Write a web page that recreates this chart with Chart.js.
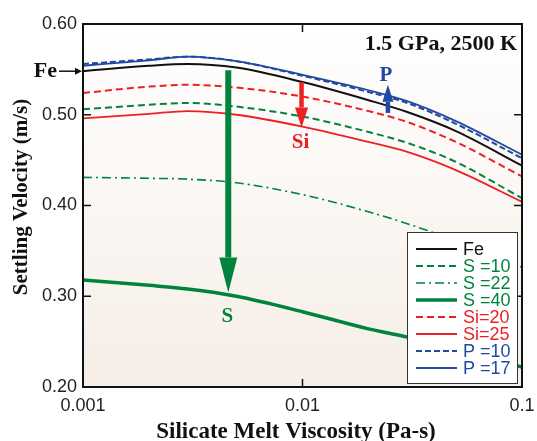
<!DOCTYPE html>
<html>
<head>
<meta charset="utf-8">
<script src="https://cdn.jsdelivr.net/npm/chart.js@4"></script>
<style>
  body { margin: 0; background: #fff; }
  #wrap { width: 537px; height: 441px; position: relative; }
</style>
</head>
<body>
<div id="wrap"><canvas id="chart"></canvas></div>
<script>
// viscosity (Pa-s)
const viscosity = [0.001, 0.002, 0.003, 0.005, 0.01, 0.02, 0.03, 0.05, 0.1];

// settling velocity (m/s)
const fe   = [0.548, 0.554, 0.556, 0.552, 0.536, 0.516, 0.503, 0.482, 0.444];
const s10  = [0.506, 0.511, 0.513, 0.509, 0.498, 0.481, 0.469, 0.448, 0.408];
const s22  = [0.431, 0.430, 0.429, 0.425, 0.412, 0.393, 0.380, 0.361, 0.332];
const s40  = [0.318, 0.312, 0.308, 0.300, 0.283, 0.264, 0.255, 0.241, 0.222];
const si20 = [0.524, 0.531, 0.533, 0.530, 0.520, 0.504, 0.492, 0.470, 0.432];
const si25 = [0.496, 0.501, 0.504, 0.500, 0.487, 0.470, 0.459, 0.439, 0.404];
const p10  = [0.556, 0.561, 0.564, 0.559, 0.543, 0.525, 0.513, 0.490, 0.452];
const p17  = [0.554, 0.560, 0.564, 0.559, 0.544, 0.527, 0.515, 0.493, 0.456];

const xTicks = [0.001, 0.01, 0.1];
const yTicks = [0.2, 0.3, 0.4, 0.5, 0.6];

// arrows: [x, yFrom, yTo], labels: [x, y]
const sArrow  = [0.00459, 0.549, 0.304];
const siArrow = [0.0099, 0.536, 0.486];
const pArrow  = [0.0245, 0.502, 0.533];
const sLabel  = [0.00455, 0.278];
const siLabel = [0.0098, 0.469];
const pLabel  = [0.0240, 0.543];
const feLevel = 0.548;

const GREEN = '#00843d';
const RED = '#ed2024';
const BLUE = '#1f4aa0';

const sans = "'Liberation Sans', Arial, sans-serif";
const serif = "'Liberation Serif', 'Times New Roman', serif";

function pts(ys) {
    return viscosity.map((x, i) => ({ x: x, y: ys[i] }));
}

function series(label, ys, color, width, dash) {
    return {
        label: label,
        data: pts(ys),
        borderColor: color,
        backgroundColor: color,
        borderWidth: width,
        borderDash: dash,
        pointRadius: 0,
        cubicInterpolationMode: 'monotone',
        fill: false
    };
}

const datasets = [
    series('Fe', fe, '#111111', 2, []),
    series('S =10', s10, GREEN, 2, [7, 4]),
    series('S =22', s22, GREEN, 1.6, [9, 4, 2, 4]),
    series('S =40', s40, GREEN, 3.5, []),
    series('Si=20', si20, RED, 2, [7, 4]),
    series('Si=25', si25, RED, 1.8, []),
    series('P =10', p10, BLUE, 2, [6, 3]),
    series('P =17', p17, BLUE, 1.8, [])
];

function arrow(ctx, x, y0, y1, shaft, headW, headL, color) {
    const dir = y1 > y0 ? 1 : -1;
    ctx.save();
    ctx.fillStyle = color;
    ctx.strokeStyle = color;
    ctx.lineWidth = shaft;
    ctx.beginPath();
    ctx.moveTo(x, y0);
    ctx.lineTo(x, y1 - dir * headL);
    ctx.stroke();
    ctx.beginPath();
    ctx.moveTo(x - headW / 2, y1 - dir * headL);
    ctx.lineTo(x + headW / 2, y1 - dir * headL);
    ctx.lineTo(x, y1);
    ctx.closePath();
    ctx.fill();
    ctx.restore();
}

const decor = {
    id: 'decor',
    beforeDraw(chart) {
        const { ctx, chartArea: a } = chart;
        const g = ctx.createLinearGradient(0, a.top, 0, a.bottom);
        g.addColorStop(0, '#ffffff');
        g.addColorStop(1, '#f6eee7');
        ctx.save();
        ctx.fillStyle = g;
        ctx.fillRect(a.left, a.top, a.right - a.left, a.bottom - a.top);
        ctx.restore();
    },
    afterDatasetsDraw(chart) {
        const { ctx, chartArea: a, scales } = chart;
        const xs = scales.x, ys = scales.y;

        // frame and inner ticks
        ctx.save();
        ctx.strokeStyle = '#111';
        ctx.lineWidth = 2;
        ctx.strokeRect(a.left, a.top, a.right - a.left, a.bottom - a.top);
        ctx.lineWidth = 1.5;
        ctx.beginPath();
        yTicks.slice(1, -1).forEach(v => {
            const y = ys.getPixelForValue(v);
            ctx.moveTo(a.left, y); ctx.lineTo(a.left + 8, y);
            ctx.moveTo(a.right, y); ctx.lineTo(a.right - 8, y);
        });
        xTicks.slice(1, -1).forEach(v => {
            const x = xs.getPixelForValue(v);
            ctx.moveTo(x, a.bottom); ctx.lineTo(x, a.bottom - 8);
            ctx.moveTo(x, a.top); ctx.lineTo(x, a.top + 8);
        });
        ctx.stroke();
        ctx.restore();

        // arrows
        arrow(ctx, xs.getPixelForValue(sArrow[0]), ys.getPixelForValue(sArrow[1]),
              ys.getPixelForValue(sArrow[2]), 6, 18, 35, GREEN);
        arrow(ctx, xs.getPixelForValue(siArrow[0]), ys.getPixelForValue(siArrow[1]),
              ys.getPixelForValue(siArrow[2]), 4.5, 13, 20, RED);
        arrow(ctx, xs.getPixelForValue(pArrow[0]), ys.getPixelForValue(pArrow[1]),
              ys.getPixelForValue(pArrow[2]), 4.5, 11, 17, BLUE);

        ctx.save();
        ctx.font = 'bold 21px ' + serif;
        ctx.textAlign = 'center';
        ctx.textBaseline = 'middle';
        ctx.fillStyle = GREEN;
        ctx.fillText('S', xs.getPixelForValue(sLabel[0]), ys.getPixelForValue(sLabel[1]));
        ctx.fillStyle = RED;
        ctx.fillText('Si', xs.getPixelForValue(siLabel[0]), ys.getPixelForValue(siLabel[1]));
        ctx.fillStyle = BLUE;
        ctx.fillText('P', xs.getPixelForValue(pLabel[0]), ys.getPixelForValue(pLabel[1]));

        // condition text
        ctx.font = 'bold 22px ' + serif;
        ctx.fillStyle = '#111';
        ctx.textAlign = 'right';
        ctx.textBaseline = 'alphabetic';
        ctx.fillText('1.5 GPa, 2500 K', a.right - 5, a.top + 26);

        // Fe marker at the left axis
        const fy = ys.getPixelForValue(feLevel);
        ctx.textAlign = 'right';
        ctx.textBaseline = 'middle';
        ctx.fillText('Fe', 57, fy);
        ctx.strokeStyle = '#111';
        ctx.lineWidth = 1.5;
        ctx.beginPath();
        ctx.moveTo(59, fy); ctx.lineTo(a.left - 6, fy);
        ctx.stroke();
        ctx.beginPath();
        ctx.moveTo(a.left - 1, fy);
        ctx.lineTo(a.left - 8, fy - 3.5);
        ctx.lineTo(a.left - 8, fy + 3.5);
        ctx.closePath();
        ctx.fill();

        // axis titles
        ctx.font = 'bold 23px ' + serif;
        ctx.textAlign = 'center';
        ctx.textBaseline = 'alphabetic';
        ctx.fillText('Silicate Melt Viscosity (Pa-s)', 296, 438);
        ctx.font = 'bold 21px ' + serif;
        ctx.textBaseline = 'middle';
        ctx.translate(22, 197);
        ctx.rotate(-Math.PI / 2);
        ctx.fillText('Settling Velocity (m/s)', 0, 0);
        ctx.restore();

        // legend box
        const bx = 407, by = 232, bw = 110, bh = 151;
        ctx.save();
        ctx.fillStyle = '#fff';
        ctx.fillRect(bx, by, bw, bh);
        ctx.strokeStyle = '#333';
        ctx.lineWidth = 1;
        ctx.strokeRect(bx + 0.5, by + 0.5, bw, bh);
        ctx.font = '18px ' + sans;
        ctx.textAlign = 'left';
        ctx.textBaseline = 'middle';
        chart.data.datasets.forEach((d, i) => {
            const y = by + 17 + i * 17;
            ctx.strokeStyle = d.borderColor;
            ctx.lineWidth = d.borderWidth;
            ctx.setLineDash(d.borderDash);
            ctx.beginPath();
            ctx.moveTo(bx + 9, y); ctx.lineTo(bx + 50, y);
            ctx.stroke();
            ctx.setLineDash([]);
            ctx.fillStyle = d.borderColor;
            ctx.fillText(d.label, bx + 56, y + 1);
        });
        ctx.restore();
    }
};

new Chart(document.getElementById('chart').getContext('2d'), {
    type: 'line',
    data: { datasets: datasets },
    options: {
        responsive: true,
        maintainAspectRatio: false,
        animation: false,
        layout: { padding: { top: 24, right: 15, left: 0, bottom: 0 } },
        plugins: { legend: { display: false }, tooltip: { enabled: false } },
        scales: {
            x: {
                type: 'logarithmic',
                min: 0.001,
                max: 0.1,
                grid: { display: false, drawTicks: false },
                border: { display: false },
                afterBuildTicks: s => { s.ticks = xTicks.map(v => ({ value: v })); },
                afterFit: s => { s.height = 54; s.paddingLeft = 0; s.paddingRight = 0; },
                ticks: {
                    padding: 8,
                    color: '#222',
                    maxRotation: 0,
                    font: { family: sans, size: 18 },
                    callback: v => String(v)
                }
            },
            y: {
                min: 0.2,
                max: 0.6,
                grid: { display: false, drawTicks: false },
                border: { display: false },
                afterBuildTicks: s => { s.ticks = yTicks.map(v => ({ value: v })); },
                afterFit: s => { s.width = 83; s.paddingTop = 0; s.paddingBottom = 0; },
                ticks: {
                    padding: 6,
                    color: '#222',
                    font: { family: sans, size: 18 },
                    callback: v => Number(v).toFixed(2)
                }
            }
        }
    },
    plugins: [decor]
});
</script>
</body>
</html>
